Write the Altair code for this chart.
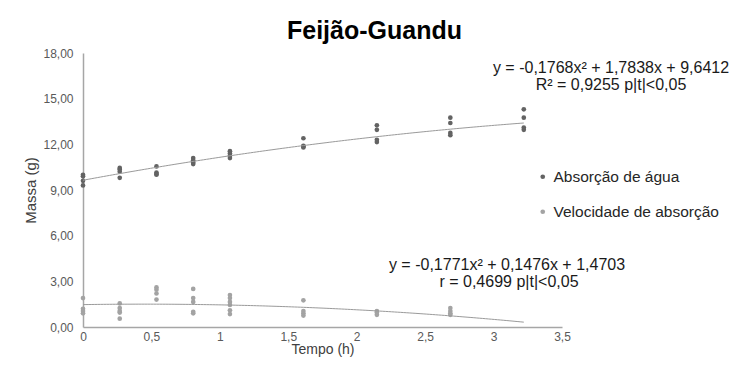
import altair as alt
import pandas as pd

# ---- data ----
series = ["Absorção de água", "Velocidade de absorção"]

abs_times = [0, 0.25, 0.5, 0.75, 1, 1.5, 2, 2.5, 3]
abs_values = [
    [10.0, 9.9, 9.6, 9.3],
    [10.45, 10.35, 10.2, 9.8],
    [10.55, 10.15, 10.05, 10.0],
    [11.1, 10.95, 10.8, 10.7],
    [11.55, 11.4, 11.25, 11.1],
    [12.4, 11.9, 11.8, 11.85],
    [13.25, 12.95, 12.3, 12.15],
    [13.75, 13.4, 12.75, 12.6],
    [14.3, 13.75, 13.1, 12.95],
]

vel_times = [0, 0.25, 0.5, 0.75, 1, 1.5, 2, 2.5]
vel_values = [
    [1.9, 1.2, 1.05, 0.9],
    [1.55, 1.25, 1.05, 0.95, 0.55],
    [2.6, 2.45, 2.2, 1.8],
    [2.5, 1.9, 1.65, 1.0, 0.9],
    [2.1, 1.9, 1.65, 1.45, 1.1, 0.85],
    [1.75, 1.05, 0.9, 0.75],
    [1.05, 0.95, 0.8],
    [1.25, 1.05, 0.9, 0.8],
]

# printed trend-line coefficients (a, b, c) of y = a x^2 + b x + c
coef_abs = [-0.1768, 1.7838, 9.6412]
coef_vel = [-0.1771, 0.1476, 1.4703]

eq_abs = ["y = -0,1768x² + 1,7838x + 9,6412", "R² = 0,9255  p|t|<0,05"]
eq_vel = ["y = -0,1771x² + 0,1476x + 1,4703", "r = 0,4699 p|t|<0,05"]

x_ticks = [0, 0.5, 1, 1.5, 2, 2.5, 3, 3.5]
y_ticks = [0, 3, 6, 9, 12, 15, 18]

# ---- build table ----
rows = []
for t, vals in zip(abs_times, abs_values):
    for v in vals:
        rows.append({"t": t, "m": v, "serie": series[0]})
for t, vals in zip(vel_times, vel_values):
    for v in vals:
        rows.append({"t": t, "m": v, "serie": series[1]})
df = pd.DataFrame(rows)

FONT = "Liberation Sans"
XMAX = 3.26  # the drawn axis spans a bit less than the printed 3,5
ratio = 3.5 / XMAX

x_scale = alt.Scale(domain=[0, XMAX], nice=False, zero=False)
y_scale = alt.Scale(domain=[0, 18], nice=False)

x_enc = alt.X(
    "t:Q",
    scale=x_scale,
    axis=alt.Axis(
        values=[v / ratio for v in x_ticks],
        labelExpr=f"replace(toString(round(datum.value*{ratio}*2)/2), '.', ',')",
        title="Tempo (h)",
        titleY=15,
        titleBaseline="top",
        labelPadding=4,
        labelFlush=False,
        titleFontSize=14,
    ),
)
y_enc = alt.Y(
    "m:Q",
    scale=y_scale,
    axis=alt.Axis(
        values=y_ticks,
        labelExpr="replace(format(datum.value, '.2f'), '.', ',')",
        title="Massa (g)",
        titlePadding=4,
        labelPadding=10,
        labelFlush=False,
        titleFontSize=15,
    ),
)

points = alt.Chart(df).mark_circle(size=22, opacity=1).encode(
    x=x_enc,
    y=y_enc,
    color=alt.Color(
        "serie:N",
        scale=alt.Scale(domain=series, range=["#636363", "#a3a3a3"]),
        legend=alt.Legend(
            title=None,
            orient="none",
            legendX=452,
            legendY=116,
            labelFont=FONT,
            labelFontSize=15.5,
            labelColor="#262626",
            labelLimit=400,
            symbolSize=22,
            symbolType="circle",
            rowPadding=18,
            labelOffset=3,
        ),
    ),
)


def curve(coef):
    a, b, c = coef
    return (
        alt.Chart(alt.sequence(0, 3.0001, 0.02, as_="t"))
        .transform_calculate(m=f"{a}*datum.t*datum.t + {b}*datum.t + {c}")
        .mark_line(color="#9a9a9a", strokeWidth=1)
        .encode(x="t:Q", y="m:Q")
    )


def label(txt, px, py):
    return (
        alt.Chart(pd.DataFrame({"txt": [txt]}))
        .mark_text(font=FONT, fontSize=16, color="#1a1a1a", align="center", baseline="middle")
        .encode(x=alt.value(px), y=alt.value(py), text="txt:N")
    )


chart = (
    alt.layer(
        points,
        curve(coef_abs),
        curve(coef_vel),
        label(eq_abs[0], 528, 15),
        label(eq_abs[1], 528, 32),
        label(eq_vel[0], 424, 212),
        label(eq_vel[1], 426, 229),
    )
    .properties(
        width=479,
        height=274,
        autosize=alt.AutoSizeParams(type="none"),
        padding={"left": 75, "top": 45, "right": 168, "bottom": 32},
        title=alt.TitleParams(
            "Feijão-Guandu",
            font=FONT,
            fontSize=25,
            fontWeight="bold",
            color="#000000",
            anchor="middle",
            dx=52,
            offset=3,
        ),
    )
    .configure_view(stroke=None)
    .configure_axis(
        grid=False,
        ticks=False,
        domainColor="#a6a6a6",
        domainWidth=1.5,
        labelFont=FONT,
        labelFontSize=12,
        labelColor="#595959",
        titleFont=FONT,
        titleFontWeight="normal",
        titleColor="#404040",
    )
)

chart.save("out.html", embed_options={"renderer": "svg", "actions": False})
